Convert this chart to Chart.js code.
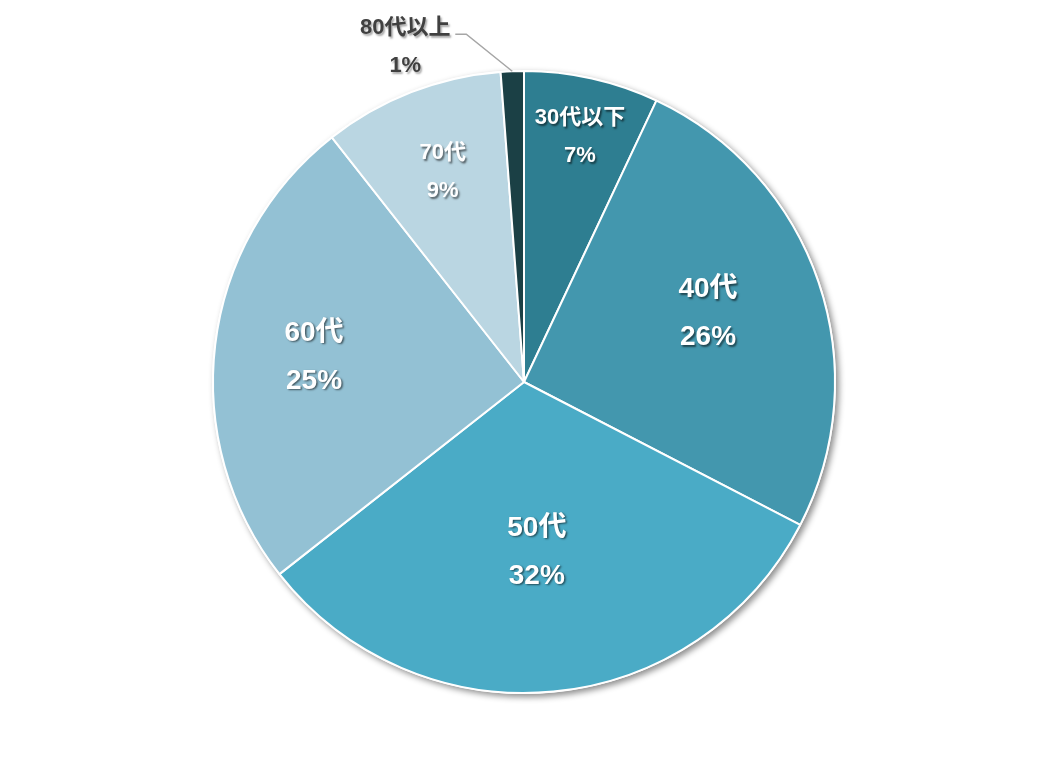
<!DOCTYPE html>
<html><head><meta charset="utf-8">
<script src="https://cdn.jsdelivr.net/npm/chart.js@4/dist/chart.umd.min.js"></script>
<style>html,body{margin:0;padding:0;background:#fff}#wrap{width:1048px;height:764px}</style>
</head><body><div id="wrap"><canvas id="c" width="1048" height="764"></canvas></div>
<script>
const categories = ["30代以下", "40代", "50代", "60代", "70代", "80代以上"];
const values = [7.0, 25.6, 31.8, 25.0, 9.4, 1.2];
const percentLabels = ["7%", "26%", "32%", "25%", "9%", "1%"];
const colors = ["#2E7E91", "#4397AE", "#4AABC6", "#93C1D4", "#BAD6E2", "#1B4045"];

const FONT = "'Liberation Sans','Noto Sans CJK JP',sans-serif";
// per-label placement: radius fraction, small nudge, font size, line gap; outside label handled separately
const labelCfg = [
  {r:0.81, dx:1, dy:1, size:22, gap:38},
  {r:0.635, dx:-3, dy:-5, size:28, gap:48},
  {r:0.54, dx:-3, dy:3, size:28, gap:48},
  {r:0.68, dx:0, dy:0, size:28, gap:48},
  {r:0.73, dx:1, dy:2, size:22, gap:38},
  {outside:true, size:22, gap:38}
];

const shadowPlugin = {
  id:'pieShadow',
  beforeDatasetsDraw(chart){
    const arc = chart.getDatasetMeta(0).data[0];
    if(!arc) return;
    const ctx = chart.ctx;
    ctx.save();
    ctx.shadowColor = 'rgba(0,0,0,0.45)';
    ctx.shadowBlur = 6;
    ctx.shadowOffsetX = 3;
    ctx.shadowOffsetY = 3;
    ctx.fillStyle = '#ffffff';
    ctx.beginPath();
    ctx.arc(arc.x, arc.y, arc.outerRadius + 1, 0, Math.PI*2);
    ctx.fill();
    ctx.restore();
  }
};

const labelPlugin = {
  id:'sliceLabels',
  afterDatasetsDraw(chart){
    const meta = chart.getDatasetMeta(0);
    const ctx = chart.ctx;
    meta.data.forEach((arc, i) => {
      const cfg = labelCfg[i];
      const mid = (arc.startAngle + arc.endAngle) / 2;
      ctx.save();
      ctx.textAlign = 'center';
      ctx.textBaseline = 'middle';
      ctx.font = `bold ${cfg.size}px ${FONT}`;
      if (cfg.outside) {
        const ax = arc.x + Math.cos(mid) * arc.outerRadius;
        const ay = arc.y + Math.sin(mid) * arc.outerRadius;
        ctx.strokeStyle = '#A6A6A6';
        ctx.lineWidth = 1.5;
        ctx.beginPath();
        ctx.moveTo(ax, ay);
        ctx.lineTo(ax - 46, ay - 37);
        ctx.lineTo(ax - 57, ay - 37);
        ctx.stroke();
        ctx.shadowColor = 'rgba(0,0,0,0.35)';
        ctx.shadowBlur = 2;
        ctx.shadowOffsetX = 1.5;
        ctx.shadowOffsetY = 1.5;
        ctx.fillStyle = '#404040';
        const tx = ax - 107;
        ctx.fillText(categories[i], tx, ay - 43);
        ctx.fillText(percentLabels[i], tx, ay - 43 + cfg.gap);
      } else {
        const r = arc.outerRadius * cfg.r;
        const cx = arc.x + Math.cos(mid) * r + cfg.dx;
        const cy = arc.y + Math.sin(mid) * r + cfg.dy;
        ctx.shadowColor = 'rgba(0,0,0,0.55)';
        ctx.shadowBlur = 2;
        ctx.shadowOffsetX = 1.5;
        ctx.shadowOffsetY = 1.5;
        ctx.fillStyle = '#ffffff';
        ctx.fillText(categories[i], cx, cy - cfg.gap/2);
        ctx.fillText(percentLabels[i], cx, cy + cfg.gap/2);
      }
      ctx.restore();
    });
  }
};

new Chart(document.getElementById('c'), {
  type:'pie',
  data:{
    labels: categories,
    datasets:[{
      data: values,
      backgroundColor: colors,
      borderColor:'#ffffff',
      borderWidth:2
    }]
  },
  options:{
    responsive:false,
    animation:false,
    layout:{padding:{top:70,bottom:70,left:0,right:0}},
    plugins:{legend:{display:false}, tooltip:{enabled:false}}
  },
  plugins:[shadowPlugin, labelPlugin]
});
</script>
</body></html>
